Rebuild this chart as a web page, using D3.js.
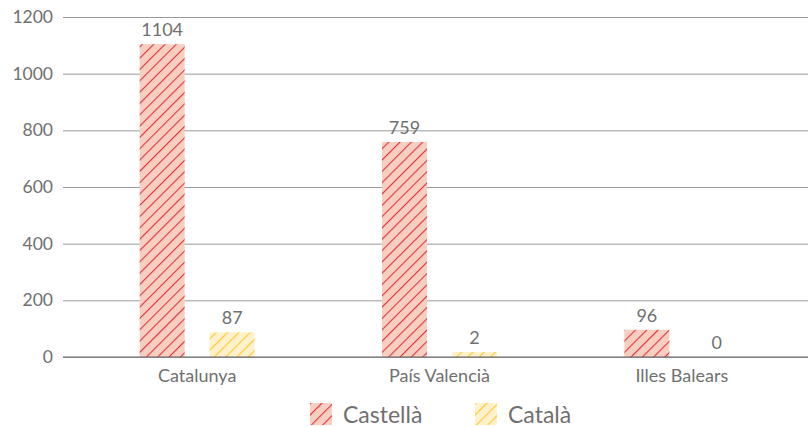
<!DOCTYPE html>
<html>
<head>
<meta charset="utf-8">
<script src="https://cdn.jsdelivr.net/npm/d3@7"></script>
<style>
  body { margin: 0; background: #fff; }
  text { font-family: Lato, "Open Sans", sans-serif; font-weight: 400; fill: #707070; }
</style>
</head>
<body>
<div id="chart-area"></div>
<script>
const WIDTH = 808
const HEIGHT = 427
const MARGIN = {LEFT: 63, RIGHT: 0, TOP: 17, BOTTOM: 70}

const categories = ["Catalunya", "País Valencià", "Illes Balears"]
const seriesNames = ["Castellà", "Català"]
const castella = [1104, 759, 96]
const catala = [87, 2, 0]
const yTicks = [0, 200, 400, 600, 800, 1000, 1200]

const colors = {
  "Castellà": {bg: "#f6cfc0", line: "#e3323f"},
  "Català": {bg: "#fff1cc", line: "#ffc928"}
}

const svg = d3.select("#chart-area").append("svg")
  .attr("width", WIDTH)
  .attr("height", HEIGHT)

// hatch patterns
const defs = svg.append("defs")
seriesNames.forEach((s, i) => {
  const p = defs.append("pattern")
    .attr("id", "hatch" + i)
    .attr("patternUnits", "userSpaceOnUse")
    .attr("width", 8)
    .attr("height", 8)
    .attr("patternTransform", "rotate(45)")
  p.append("rect").attr("width", 8).attr("height", 8).attr("fill", colors[s].bg)
  p.append("line")
    .attr("x1", 0).attr("y1", 0).attr("x2", 0).attr("y2", 8)
    .attr("stroke", colors[s].line)
    .attr("stroke-width", 2.2)
})

const y = d3.scaleLinear()
  .domain([0, 1200])
  .range([HEIGHT - MARGIN.BOTTOM, MARGIN.TOP])

const x = d3.scaleBand()
  .domain(categories)
  .range([76, 803])

const x1 = d3.scaleBand()
  .domain(seriesNames)
  .range([-57.5, 57.5])
  .paddingInner(0.357)

const MIN_BAR = 5 // tiny non-zero values still show a sliver

// grid
const yAxisCall = d3.axisLeft(y)
  .tickValues(yTicks)
  .tickFormat(d3.format("d"))
  .tickSize(-(WIDTH - MARGIN.LEFT))
  .tickPadding(10)

const yAxis = svg.append("g")
  .attr("transform", `translate(${MARGIN.LEFT}, 0)`)
  .call(yAxisCall)
yAxis.select(".domain").remove()
yAxis.selectAll("line").attr("stroke", "#9a9a9a").attr("stroke-width", 1)
yAxis.selectAll("text").attr("font-size", "17.5px").attr("fill", "#707070")
  .attr("font-family", null)

const data = categories.map((c, i) => ({cat: c, values: [
  {s: "Castellà", v: castella[i]},
  {s: "Català", v: catala[i]}
]}))

const barH = v => v > 0 ? Math.max(MIN_BAR, y(0) - y(v)) : 0

const groups = svg.selectAll(".grp")
  .data(data)
  .enter().append("g")
  .attr("class", "grp")
  .attr("transform", d => `translate(${x(d.cat) + x.bandwidth() / 2}, 0)`)

groups.selectAll("rect")
  .data(d => d.values)
  .enter().append("rect")
  .attr("x", d => x1(d.s))
  .attr("width", x1.bandwidth())
  .attr("y", d => y(0) - barH(d.v))
  .attr("height", d => barH(d.v))
  .attr("fill", d => `url(#hatch${seriesNames.indexOf(d.s)})`)

groups.selectAll(".val")
  .data(d => d.values)
  .enter().append("text")
  .attr("class", "val")
  .attr("x", d => x1(d.s) + x1.bandwidth() / 2)
  .attr("y", d => y(0) - barH(d.v) - 8)
  .attr("text-anchor", "middle")
  .attr("font-size", "18px")
  .text(d => d.v)

// x axis
const xAxisCall = d3.axisBottom(x).tickSize(0).tickPadding(12)
const xAxis = svg.append("g")
  .attr("transform", `translate(0, ${y(0)})`)
  .call(xAxisCall)
xAxis.select(".domain").remove()
xAxis.selectAll("text").attr("font-size", "18px").attr("fill", "#707070")
  .attr("font-family", null)
svg.append("line")
  .attr("x1", MARGIN.LEFT).attr("x2", WIDTH)
  .attr("y1", y(0)).attr("y2", y(0))
  .attr("stroke", "#666").attr("stroke-width", 1.2)

// legend
const legendX = [310, 475]
const legend = svg.selectAll(".legend")
  .data(seriesNames)
  .enter().append("g")
  .attr("class", "legend")
  .attr("transform", (d, i) => `translate(${legendX[i]}, 403)`)
legend.append("rect")
  .attr("width", 22).attr("height", 22)
  .attr("fill", (d, i) => `url(#hatch${i})`)
legend.append("text")
  .attr("x", 33).attr("y", 20)
  .attr("font-size", "23px")
  .text(d => d)
</script>
</body>
</html>
